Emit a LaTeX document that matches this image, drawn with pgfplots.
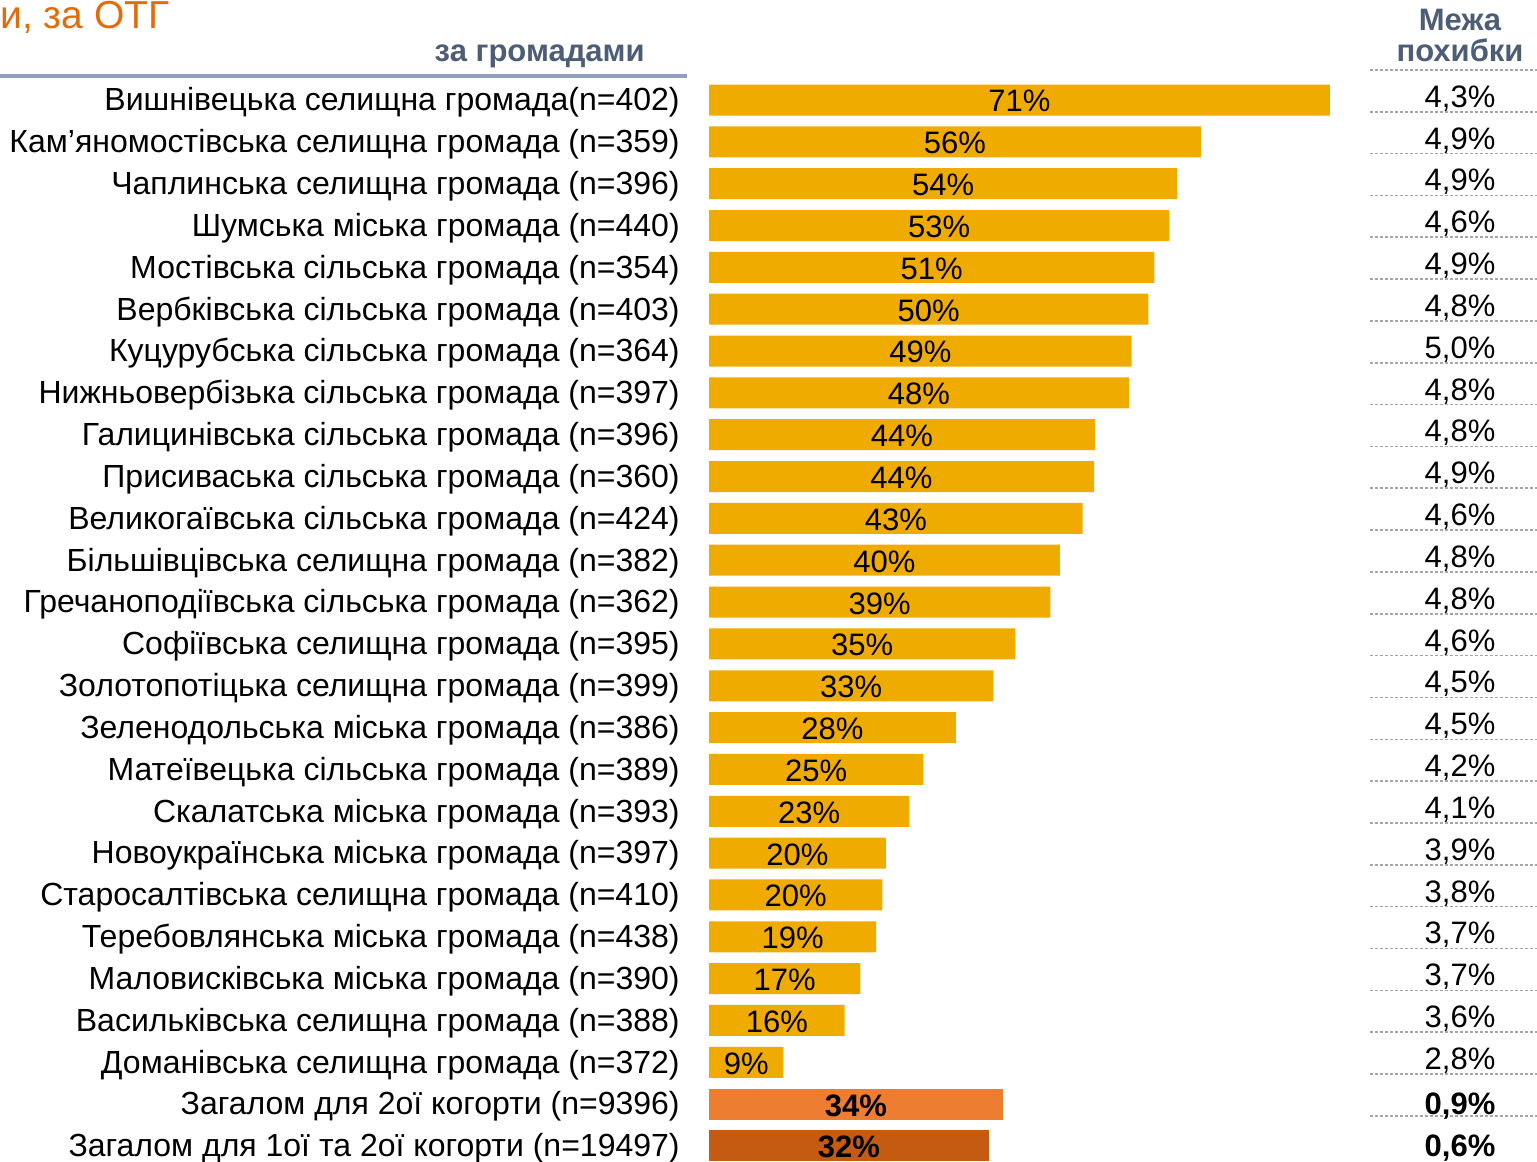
\documentclass[border=0pt]{standalone}
\usepackage{pgfplots}
\usepackage{pgfplotstable}
\pgfplotsset{compat=1.18}
\usepackage{fontspec}
\setmainfont{Liberation Sans}
\definecolor{amber}{HTML}{F0AB00}
\definecolor{orangeA}{HTML}{ED7D31}
\definecolor{orangeB}{HTML}{C55A11}
\definecolor{titleor}{HTML}{E36C0A}
\definecolor{slate}{HTML}{4D5D75}
\definecolor{rulec}{HTML}{8EA0BA}
\definecolor{dashc}{HTML}{A6A6A6}

\pgfplotstableread[col sep=semicolon]{
y;val;lab;moe;cat
0;70.97;71;4,3;Вишнівецька селищна громада(n=402)
1;56.2;56;4,9;Кам’яномостівська селищна громада (n=359)
2;53.5;54;4,9;Чаплинська селищна громада (n=396)
3;52.6;53;4,6;Шумська міська громада (n=440)
4;50.9;51;4,9;Мостівська сільська громада (n=354)
5;50.2;50;4,8;Вербківська сільська громада (n=403)
6;48.3;49;5,0;Куцурубська сільська громада (n=364)
7;48.0;48;4,8;Нижньовербізька сільська громада (n=397)
8;44.1;44;4,8;Галицинівська сільська громада (n=396)
9;44.0;44;4,9;Присиваська сільська громада (n=360)
10;42.7;43;4,6;Великогаївська сільська громада (n=424)
11;40.1;40;4,8;Більшівцівська селищна громада (n=382)
12;39.0;39;4,8;Гречаноподіївська сільська громада (n=362)
13;35.0;35;4,6;Софіївська селищна громада (n=395)
14;32.5;33;4,5;Золотопотіцька селищна громада (n=399)
15;28.2;28;4,5;Зеленодольська міська громада (n=386)
16;24.5;25;4,2;Матеївецька сільська громада (n=389)
17;22.9;23;4,1;Скалатська міська громада (n=393)
18;20.2;20;3,9;Новоукраїнська міська громада (n=397)
19;19.8;20;3,8;Старосалтівська селищна громада (n=410)
20;19.1;19;3,7;Теребовлянська міська громада (n=438)
21;17.3;17;3,7;Маловисківська міська громада (n=390)
22;15.5;16;3,6;Васильківська селищна громада (n=388)
23;8.5;9;2,8;Доманівська селищна громада (n=372)
24;33.6;34;0,9;Загалом для 2ої когорти (n=9396)
25;32.0;32;0,6;Загалом для 1ої та 2ої когорти (n=19497)
}\datatable

\begin{document}
\begin{tikzpicture}
\begin{axis}[
  name=ax,
  hide axis,
  scale only axis,
  clip=false,
  x=4.375pt, y=20.92pt,
  y dir=reverse,
  xmin=-81.03, xmax=94.63,
  ymin=-2.39, ymax=25.38,
  every node near coord/.append style={font=\fontsize{15.5}{18}\selectfont, text=black},
]
% bars
\addplot[xbar, fill=amber, draw=none, bar width=15.5pt, bar shift=0pt,
  skip coords between index={24}{26}] table[x=val, y=y] {\datatable};
\addplot[xbar, fill=orangeA, draw=none, bar width=15.5pt, bar shift=0pt] coordinates {(33.6,24)};
\addplot[xbar, fill=orangeB, draw=none, bar width=15.5pt, bar shift=0pt] coordinates {(32.0,25)};
% bar labels
\addplot[draw=none, mark=none, nodes near coords={\pgfplotspointmeta\%}, nodes near coords align=center,
  point meta=explicit symbolic, skip coords between index={24}{26}]
  table[x expr=\thisrow{val}/2, y expr=\thisrow{y}+0.03, meta=lab] {\datatable};
\addplot[draw=none, mark=none, nodes near coords={\textbf{\pgfplotspointmeta\%}}, nodes near coords align=center,
  point meta=explicit symbolic, skip coords between index={0}{24}]
  table[x expr=\thisrow{val}/2, y expr=\thisrow{y}+0.03, meta=lab] {\datatable};
% category labels
\addplot[draw=none, mark=none, nodes near coords={\pgfplotspointmeta},
  point meta=explicit symbolic, every node near coord/.append style={anchor=east, inner sep=0pt, font=\fontsize{16}{19}\selectfont}]
  table[x expr=-3.31, y expr=\thisrow{y}+0.06, meta=cat] {\datatable};
% margin of error
\addplot[draw=none, mark=none, nodes near coords={\pgfplotspointmeta\%}, nodes near coords align=center,
  point meta=explicit symbolic, skip coords between index={24}{26}]
  table[x expr=85.83, y expr=\thisrow{y}-0.04, meta=moe] {\datatable};
\addplot[draw=none, mark=none, nodes near coords={\textbf{\pgfplotspointmeta\%}}, nodes near coords align=center,
  point meta=explicit symbolic, skip coords between index={0}{24}]
  table[x expr=85.83, y expr=\thisrow{y}+0.04, meta=moe] {\datatable};
% dashed separators
\pgfplotsinvokeforeach{-1,...,24}{
  \draw[dashc, line width=0.8pt, dash pattern=on 1.5pt off 1pt] (axis cs:75.54,#1+0.28) -- (axis cs:94.63,#1+0.28);
}
% headers
\draw[rulec, line width=2pt] (axis cs:-81.03,-0.574) -- (axis cs:-2.51,-0.574);
\node[anchor=base west, text=titleor, font=\fontsize{19.5}{24}\selectfont, inner sep=0pt] at (axis cs:-81.03,-1.72) {и, за ОТГ};
\node[anchor=base east, text=slate, font=\bfseries\fontsize{15.5}{18}\selectfont, inner sep=0pt] at (axis cs:-7.31,-0.93) {за громадами};
\node[anchor=base, text=slate, font=\bfseries\fontsize{15.5}{18}\selectfont, inner sep=0pt] at (axis cs:85.83,-1.67) {Межа};
\node[anchor=base, text=slate, font=\bfseries\fontsize{15.5}{18}\selectfont, inner sep=0pt] at (axis cs:85.83,-0.91) {похибки};
\end{axis}
\pgfresetboundingbox
\useasboundingbox (ax.south west) rectangle (ax.north east);
\end{tikzpicture}
\end{document}
